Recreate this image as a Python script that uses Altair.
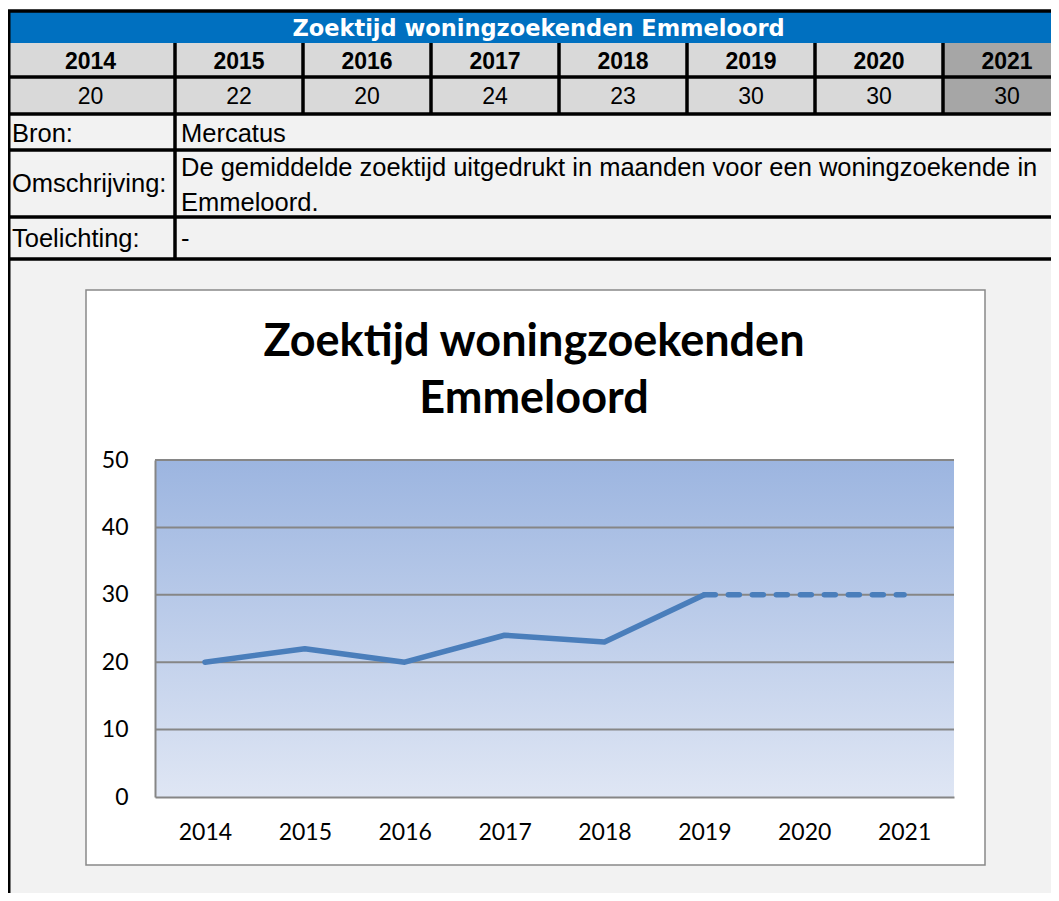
import altair as alt
import pandas as pd

# ---------------- data ----------------
YEARS = [2014, 2015, 2016, 2017, 2018, 2019, 2020, 2021]
VALUES = [20, 22, 20, 24, 23, 30, 30, 30]
LINE_STYLE = ["solid", "solid", "solid", "solid", "solid", "solid", "dashed", "dashed"]
HIGHLIGHT_YEAR = 2021
TABLE_TITLE = "Zoektijd woningzoekenden Emmeloord"
ROW_LABELS = ["Bron:", "Omschrijving:", "Toelichting:"]
ROW_TEXTS = [
    ["Mercatus"],
    ["De gemiddelde zoektijd uitgedrukt in maanden voor een woningzoekende in", "Emmeloord."],
    ["-"],
]
CHART_TITLE = ["Zoektijd woningzoekenden", "Emmeloord"]
Y_TICKS = [0, 10, 20, 30, 40, 50]

# ---------------- layout (reference pixel grid) ----------------
PAGE = 8
W, H = 1043, 885
X0, X1 = PAGE, PAGE + W
Y0, Y1 = PAGE, PAGE + H
T_LEFT = 6
C1 = 175
COL_W = 128
R_TOP, R_YEAR, R_VAL, R_BRON, R_OMS, R_TOE, R_END = 11, 43, 77, 114, 150, 217, 259
BOX_L, BOX_T, BOX_R, BOX_B = 86, 290, 985, 865
PL_L, PL_T, PL_R, PL_B = 155, 460, 954, 797

edges = [T_LEFT] + [C1 + i * COL_W for i in range(len(YEARS))]
clip = lambda v: min(max(v, X0), X1)

px = alt.Scale(domain=[X0, X1], range=[0, W], nice=False, zero=False)
py = alt.Scale(domain=[Y0, Y1], range=[0, H], nice=False, zero=False)


def pos(extra=True):
    enc = dict(
        x=alt.X("x:Q", scale=px, axis=None),
        y=alt.Y("y:Q", scale=py, axis=None),
    )
    if extra:
        enc["x2"] = "x2:Q"
        enc["y2"] = "y2:Q"
    return enc


# background cells
rects = [dict(x=clip(T_LEFT), x2=X1, y=R_TOP, y2=R_YEAR, fill="#0070c0")]
for i, yr in enumerate(YEARS):
    fill = "#a6a6a6" if yr == HIGHLIGHT_YEAR else "#d9d9d9"
    rects.append(dict(x=clip(edges[i]), x2=clip(edges[i + 1]), y=R_YEAR, y2=R_BRON, fill=fill))
rects.append(dict(x=clip(T_LEFT), x2=X1, y=R_BRON, y2=Y1, fill="#f2f2f2"))
rect_layer = alt.Chart(pd.DataFrame(rects)).mark_rect().encode(
    color=alt.Color("fill:N", scale=None), **pos()
)

# black cell borders
lines = [dict(x=clip(T_LEFT), x2=X1, y=R_TOP, y2=R_TOP)]
for yy in [R_VAL, R_BRON, R_OMS, R_TOE, R_END]:
    lines.append(dict(x=clip(T_LEFT), x2=X1, y=yy, y2=yy))
for e in edges[1:]:
    if X0 <= e <= X1:
        lines.append(dict(x=e, x2=e, y=R_YEAR, y2=R_BRON))
lines.append(dict(x=C1, x2=C1, y=R_BRON, y2=R_END))
border_layer = alt.Chart(pd.DataFrame(lines)).mark_rule(color="black", strokeWidth=3.5).encode(**pos())
left_border = alt.Chart(pd.DataFrame([dict(x=X0 + 1.2, x2=X0 + 1.2, y=R_TOP, y2=Y1)])).mark_rule(
    color="black", strokeWidth=2.6
).encode(**pos())

# table texts
title_df = pd.DataFrame([dict(x=(T_LEFT + edges[-1]) / 2, y=36, text=TABLE_TITLE)])
title_txt = alt.Chart(title_df).mark_text(
    font="DejaVu Sans", fontWeight="bold", fontSize=22.5, color="white", align="center", baseline="alphabetic"
).encode(text="text:N", **pos(False))

centers = [(edges[i] + edges[i + 1]) / 2 for i in range(len(YEARS))]
year_df = pd.DataFrame([dict(x=c, y=69, text=str(yr)) for c, yr in zip(centers, YEARS)])
year_txt = alt.Chart(year_df).mark_text(
    font="Liberation Sans", fontWeight="bold", fontSize=23, color="black", align="center", baseline="alphabetic"
).encode(text="text:N", **pos(False))

val_df = pd.DataFrame([dict(x=c, y=104, text=str(v)) for c, v in zip(centers, VALUES)])
val_txt = alt.Chart(val_df).mark_text(
    font="Liberation Sans", fontSize=23, color="black", align="center", baseline="alphabetic"
).encode(text="text:N", **pos(False))

label_y = [142, 192, 247]
label_df = pd.DataFrame([dict(x=12, y=yy, text=t) for yy, t in zip(label_y, ROW_LABELS)])
label_txt = alt.Chart(label_df).mark_text(
    font="Liberation Sans", fontSize=25.5, color="black", align="left", baseline="alphabetic"
).encode(text="text:N", **pos(False))

body_y = [[142], [176, 211], [247]]
body_rows = []
for ys_, ts in zip(body_y, ROW_TEXTS):
    for yy, t in zip(ys_, ts):
        body_rows.append(dict(x=181, y=yy, text=t))
body_txt = alt.Chart(pd.DataFrame(body_rows)).mark_text(
    font="Liberation Sans", fontSize=25.5, color="black", align="left", baseline="alphabetic"
).encode(text="text:N", **pos(False))

# chart box
box_layer = alt.Chart(pd.DataFrame([dict(x=BOX_L, x2=BOX_R, y=BOX_T, y2=BOX_B)])).mark_rect(
    fill="white", stroke="#898989", strokeWidth=1.5
).encode(**pos())

grad = alt.LinearGradient(
    gradient="linear",
    stops=[alt.GradientStop(color="#9cb5e0", offset=0), alt.GradientStop(color="#dfe6f4", offset=1)],
    x1=0, x2=0, y1=0, y2=1,
)
plot_bg = alt.Chart(pd.DataFrame([dict(x=PL_L, x2=PL_R, y=PL_T, y2=PL_B)])).mark_rect(
    fill=grad
).encode(**pos())

ctitle_df = pd.DataFrame([dict(x=534, y=yy, text=t) for yy, t in zip([356, 413], CHART_TITLE)])
ctitle_txt = alt.Chart(ctitle_df).mark_text(
    font="Lato", fontWeight="bold", fontSize=45, color="black", align="center", baseline="alphabetic"
).encode(text="text:N", **pos(False))

layout = alt.layer(
    rect_layer, border_layer, left_border, title_txt, year_txt, val_txt, label_txt, body_txt,
    box_layer, plot_bg, ctitle_txt,
)

# ---------------- line chart ----------------
xs = alt.Scale(domain=[YEARS[0] - 0.5, YEARS[-1] + 0.5], range=[PL_L - X0, PL_R - X0], nice=False, zero=False)
ys = alt.Scale(domain=[Y_TICKS[0], Y_TICKS[-1]], range=[PL_B - Y0, PL_T - Y0], nice=False, zero=False)
x_axis = alt.Axis(
    orient="bottom", offset=-(Y1 - PL_B), values=YEARS, format="d", ticks=False, grid=False,
    domainColor="#868686", domainWidth=2, labelFont="Lato", labelFontSize=23, labelColor="black",
    labelPadding=24, labelFlush=False, labelOverlap=False, title=None, zindex=2,
)
y_axis = alt.Axis(
    orient="left", offset=-(PL_L - X0), values=Y_TICKS, ticks=False, tickSize=0, grid=False,
    domainColor="#868686", domainWidth=2, labelFont="Lato", labelFontSize=23, labelColor="black",
    labelPadding=27, labelFlush=False, labelOverlap=False, title=None, zindex=2,
)

grid_df = pd.DataFrame([dict(yr=YEARS[0] - 0.5, yr2=YEARS[-1] + 0.5, v=t) for t in Y_TICKS[1:]])
grid_layer = alt.Chart(grid_df).mark_rule(color="#868686", strokeWidth=2).encode(
    x=alt.X("yr:Q", scale=xs, axis=x_axis),
    x2="yr2:Q",
    y=alt.Y("v:Q", scale=ys, axis=y_axis),
)

pts = pd.DataFrame({"yr": YEARS, "v": VALUES, "style": LINE_STYLE})
last_solid = max(i for i, s in enumerate(LINE_STYLE) if s == "solid")
solid_df = pts.iloc[: last_solid + 1]
dash_df = pts.iloc[last_solid:]

line_solid = alt.Chart(solid_df).mark_line(
    color="#4a7ebb", strokeWidth=5.5, strokeCap="round", strokeJoin="round"
).encode(x=alt.X("yr:Q", scale=xs, axis=x_axis), y=alt.Y("v:Q", scale=ys, axis=y_axis))
line_dash = alt.Chart(dash_df).mark_line(
    color="#4a7ebb", strokeWidth=5.5, strokeCap="round", strokeJoin="round", strokeDash=[11, 13]
).encode(x=alt.X("yr:Q", scale=xs, axis=x_axis), y=alt.Y("v:Q", scale=ys, axis=y_axis))

plot = alt.layer(grid_layer, line_solid, line_dash)

chart = (
    alt.layer(layout, plot)
    .resolve_scale(x="independent", y="independent")
    .properties(width=W, height=H, padding=0, autosize=alt.AutoSizeParams(type="none"), background="white")
    .configure_view(stroke=None)
)

chart.save("out.html", embed_options={"renderer": "svg", "actions": False})
